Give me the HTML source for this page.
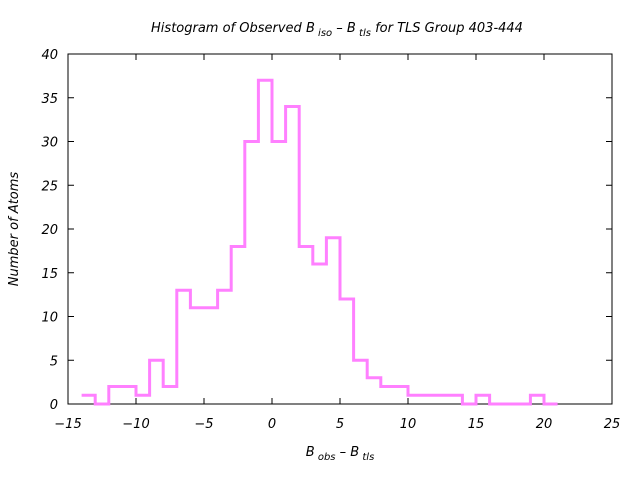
<!DOCTYPE html>
<html><head><meta charset="utf-8"><style>
html,body{margin:0;padding:0;background:#fff;}
svg{display:block;font-family:"DejaVu Sans","Liberation Sans",sans-serif;}
</style></head><body>
<svg id="chart" width="640" height="480" viewBox="0 0 640 480">
<rect x="68" y="54" width="544" height="350" fill="none" stroke="#000" stroke-width="1"/>
<g id="ticks"></g>
<path id="hist" fill="none" stroke="#ff80ff" stroke-width="3"/>
<text x="337" y="32" text-anchor="middle" font-size="13" font-style="italic">Histogram of Observed B<tspan font-size="10" dy="4"> iso</tspan><tspan dy="-4">  – B</tspan><tspan font-size="10" dy="4"> tls</tspan><tspan dy="-4">  for TLS Group 403-444</tspan></text>
<text x="340" y="456" text-anchor="middle" font-size="13" font-style="italic">B<tspan font-size="10" dy="4"> obs</tspan><tspan dy="-4">  – B</tspan><tspan font-size="10" dy="4"> tls</tspan></text>
<text transform="translate(18,229) rotate(-90)" text-anchor="middle" font-size="13" font-style="italic">Number of Atoms</text>
</svg>
<script>
const binStarts = [-14,-13,-12,-11,-10,-9,-8,-7,-6,-5,-4,-3,-2,-1,0,1,2,3,4,5,6,7,8,9,10,11,12,13,14,15,16,17,18,19,20];
const counts    = [1,0,2,2,1,5,2,13,11,11,13,18,30,37,30,34,18,16,19,12,5,3,2,2,1,1,1,1,0,1,0,0,0,1,0];
const xTicks = [-15,-10,-5,0,5,10,15,20,25];
const yTicks = [0,5,10,15,20,25,30,35,40];
const X0=68,X1=612,Y0=404,Y1=54;
const xs = v => X0 + (v - (-15)) / 40 * (X1 - X0);
const ys = v => Y0 - v / 40 * (Y0 - Y1);
const NS="http://www.w3.org/2000/svg";
const g=document.getElementById('ticks');
function mk(tag,attrs,txt){const e=document.createElementNS(NS,tag);for(const k in attrs)e.setAttribute(k,attrs[k]);if(txt!==undefined)e.textContent=txt;g.appendChild(e);return e;}
xTicks.forEach(t=>{
  const x=xs(t);
  const l=mk('line',{x1:x,x2:x,y1:Y0,y2:Y0-6,stroke:'#000'});
  
  
  const l2=mk('line',{x1:x,x2:x,y1:Y1,y2:Y1+6,stroke:'#000'});
  
  
  const tx=mk('text',{x:x,y:Y0+24,'text-anchor':'middle','font-size':13,'font-style':'italic'},String(t).replace('-','−'));
  
  
});
yTicks.forEach(t=>{
  const y=ys(t);
  const l=mk('line',{x1:X0,x2:X0+6,y1:y,y2:y,stroke:'#000'});
  
  
  const l2=mk('line',{x1:X1,x2:X1-6,y1:y,y2:y,stroke:'#000'});
  
  
  const tx=mk('text',{x:X0-10,y:y+5,'text-anchor':'end','font-size':13,'font-style':'italic'},String(t));
  
  
});
let d='';
binStarts.forEach((b,i)=>{
  const xa=xs(b),xb=xs(b+1),y=ys(counts[i]);
  d+=(i===0?'M':'L')+xa+','+y+' L'+xb+','+y+' ';
});
document.getElementById('hist').setAttribute('d',d);
</script>
</body></html>
